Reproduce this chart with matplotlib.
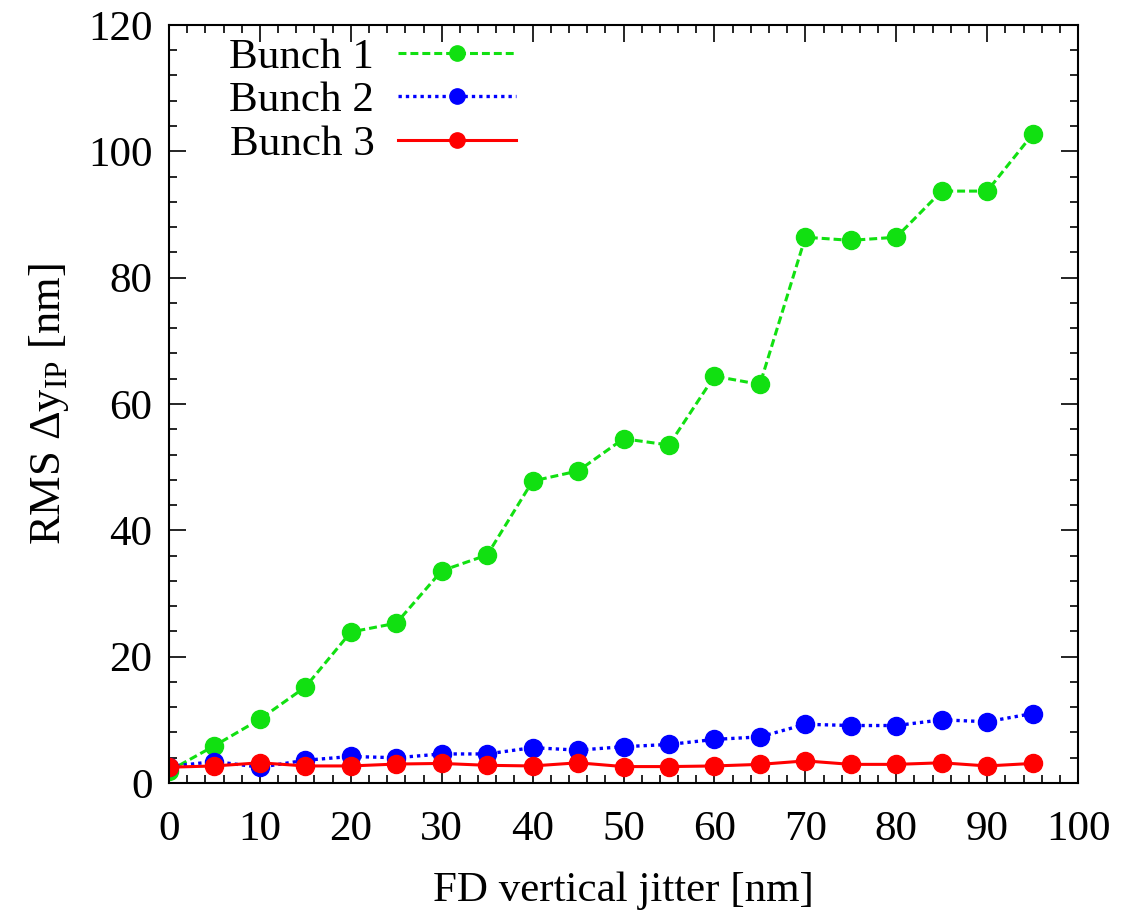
import numpy as np
import matplotlib
matplotlib.use('Agg')
import matplotlib.pyplot as plt
from matplotlib.ticker import MultipleLocator

plt.rcParams['font.family'] = ['Liberation Serif', 'DejaVu Serif']
plt.rcParams['mathtext.fontset'] = 'custom'
plt.rcParams['mathtext.rm'] = 'Liberation Serif'

# Daten
jitter = [0, 5, 10, 15, 20, 25, 30, 35, 40, 45, 50, 55, 60, 65, 70, 75, 80, 85, 90, 95]
bunch1 = [1.9, 5.9, 10.1, 15.2, 23.9, 25.3, 33.6, 36.1, 47.8, 49.4,
          54.5, 53.5, 64.4, 63.1, 86.4, 85.9, 86.4, 93.7, 93.7, 102.7]
bunch2 = [2.6, 3.4, 2.5, 3.6, 4.2, 4.0, 4.6, 4.6, 5.6, 5.2,
          5.75, 6.1, 6.9, 7.3, 9.3, 9.1, 9.1, 10.0, 9.7, 11.0]
bunch3 = [2.5, 2.7, 3.2, 2.7, 2.7, 3.0, 3.1, 2.8, 2.7, 3.2,
          2.6, 2.6, 2.7, 2.95, 3.5, 2.95, 2.95, 3.2, 2.7, 3.1]

fig = plt.figure(figsize=(11.21, 9.11), dpi=100)
ax = fig.add_axes([0.1508, 0.1405, 0.8109, 0.8321])

ax.plot(jitter, bunch1, '--', color='#11e011', lw=2.2, dashes=(2.6, 1.3),
        marker='o', ms=13, label='Bunch 1')
ax.plot(jitter, bunch2, ':', color='#0000ff', lw=2.4, dashes=(1, 1.2),
        marker='o', ms=13, label='Bunch 2')
ax.plot(jitter, bunch3, '-', color='#ff0000', lw=2.2,
        marker='o', ms=13, label='Bunch 3')

ax.set_xlim(0, 100)
ax.set_ylim(0, 120)
ax.xaxis.set_major_locator(MultipleLocator(10))
ax.xaxis.set_minor_locator(MultipleLocator(2))
ax.yaxis.set_major_locator(MultipleLocator(20))
ax.yaxis.set_minor_locator(MultipleLocator(4))
ax.tick_params(which='both', direction='in', top=True, right=True, labelsize=31, width=1.2)
ax.tick_params(which='major', length=12, pad=12)
ax.tick_params(axis='x', which='major', pad=20)
ax.tick_params(which='minor', length=6)
for s in ax.spines.values():
    s.set_linewidth(1.5)

ax.set_xlabel('FD vertical jitter [nm]', fontsize=31, labelpad=16)
ax.set_ylabel(r'RMS Δy$_{\mathrm{IP}}$ [nm]', fontsize=32, labelpad=12)

leg = ax.legend(loc='upper left', fontsize=31, frameon=False, markerfirst=False,
                handlelength=2.75, labelspacing=0.1, handletextpad=0.55, borderaxespad=0.2,
                bbox_to_anchor=(0.038, 1.017))
for h in leg.legend_handles:
    h.set_markersize(11)

plt.savefig('out.png', dpi=100)
